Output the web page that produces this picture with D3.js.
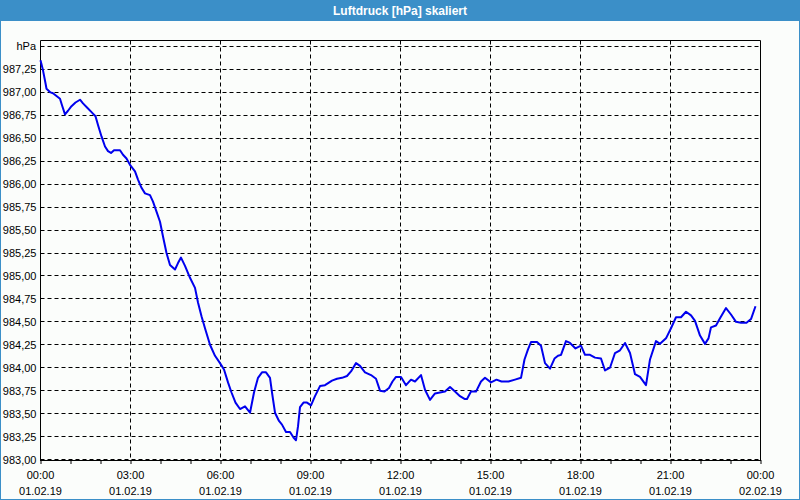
<!DOCTYPE html>
<html>
<head>
<meta charset="utf-8">
<script src="https://cdn.jsdelivr.net/npm/d3@7"></script>
<style>
  html, body { margin: 0; padding: 0; background: #fbfdfb; }
  svg { display: block; }
  text { font-family: "Liberation Sans", Arial, sans-serif; }
</style>
</head>
<body>
<svg id="chart" width="800" height="500"></svg>
<script>
// ---- data ----
const chartTitle = "Luftdruck [hPa] skaliert";
const unitLabel = "hPa";
const dayStart = "01.02.19";
const times = [
  "00:00","00:05","00:10","00:12","00:20","00:25","00:32","00:39","00:43","00:49","00:55",
  "01:02","01:10","01:19","01:25","01:34","01:43","01:50","01:55",
  "02:02","02:09","02:15","02:21","02:27","02:39","02:45","02:52","02:59",
  "03:09","03:15","03:22","03:29","03:39","03:45","03:52","03:59",
  "04:05","04:12","04:19","04:29","04:35","04:41","04:49","04:59",
  "05:09","05:15","05:22","05:29","05:39","05:49","05:59",
  "06:07","06:15","06:22","06:30","06:39","06:49","06:59",
  "07:07","07:15","07:23","07:31","07:39","07:43","07:49","07:57",
  "08:03","08:11","08:19","08:26","08:31","08:35","08:39","08:46","08:53",
  "09:01","09:09","09:19","09:29","09:43","09:53",
  "10:03","10:13","10:21","10:31","10:39","10:49",
  "11:01","11:11","11:19","11:28","11:37","11:44","11:51",
  "12:01","12:11","12:21","12:29","12:41","12:49","12:59",
  "13:09","13:19","13:29","13:39","13:49","13:59",
  "14:08","14:13","14:21","14:31","14:41","14:49",
  "15:01","15:12","15:22","15:36","15:49",
  "16:01","16:08","16:15","16:21","16:33","16:41","16:49","16:59",
  "17:08","17:15","17:21","17:31","17:39","17:50",
  "18:01","18:09","18:19","18:29","18:41","18:49","18:59",
  "19:09","19:19","19:29","19:39","19:49","19:59",
  "20:11","20:19","20:31","20:39","20:51",
  "21:01","21:11","21:21","21:31","21:41","21:49","21:59",
  "22:09","22:16","22:21","22:31","22:39","22:51",
  "23:01","23:11","23:21","23:32","23:41","23:50"
];
const pressure = [
  987.35,987.24,987.10,987.04,987.00,986.99,986.96,986.93,986.86,986.76,986.80,
  986.85,986.89,986.92,986.88,986.83,986.78,986.74,986.645,
  986.52,986.41,986.36,986.34,986.37,986.37,986.32,986.28,986.21,
  986.14,986.05,985.96,985.90,985.88,985.81,985.70,985.59,
  985.43,985.25,985.12,985.07,985.14,985.20,985.11,984.98,
  984.87,984.71,984.56,984.43,984.25,984.13,984.05,
  983.98,983.84,983.73,983.62,983.55,983.58,983.51,
  983.73,983.89,983.95,983.95,983.89,983.73,983.51,983.42,
  983.38,983.30,983.30,983.24,983.21,983.36,983.57,983.62,983.62,
  983.59,983.69,983.80,983.81,983.86,983.88,
  983.89,983.91,983.96,984.05,984.02,983.95,
  983.92,983.88,983.75,983.74,983.78,983.85,983.90,
  983.90,983.81,983.87,983.85,983.92,983.76,983.65,
  983.72,983.73,983.74,983.79,983.74,983.69,
  983.66,983.66,983.74,983.74,983.85,983.89,
  983.84,983.87,983.85,983.85,983.87,
  983.89,984.09,984.20,984.28,984.28,984.24,984.05,983.99,
  984.10,984.13,984.14,984.29,984.27,984.21,
  984.24,984.14,984.14,984.11,984.10,983.97,984.00,
  984.16,984.19,984.27,984.16,983.93,983.90,
  983.81,984.09,984.29,984.26,984.32,
  984.43,984.55,984.55,984.61,984.57,984.51,984.35,
  984.26,984.32,984.44,984.46,984.54,984.65,
  984.58,984.50,984.49,984.49,984.53,984.67
];
const yTicks = [983.00,983.25,983.50,983.75,984.00,984.25,984.50,984.75,985.00,
  985.25,985.50,985.75,986.00,986.25,986.50,986.75,987.00,987.25];
const yUnitPos = 987.50;
const xTickLabels = [
  ["00:00","01.02.19"],["03:00","01.02.19"],["06:00","01.02.19"],["09:00","01.02.19"],
  ["12:00","01.02.19"],["15:00","01.02.19"],["18:00","01.02.19"],["21:00","01.02.19"],
  ["00:00","02.02.19"]
];

// ---- setup ----
(function () {
const parse = d3.timeParse("%d.%m.%y %H:%M");
const series = times.map((t, i) => ({ t: parse(dayStart + " " + t), v: pressure[i] }));
const tStart = parse("01.02.19 00:00");
const tEnd = parse("02.02.19 00:00");

const svg = d3.select("#chart");
const W = 800, H = 500;
const blue = "#3b8fc8";

svg.append("rect").attr("x", 0).attr("y", 0).attr("width", W).attr("height", H).attr("fill", "#fbfdfb");
svg.append("rect").attr("x", 0.5).attr("y", 0.5).attr("width", W - 1).attr("height", H - 1)
  .attr("fill", "none").attr("stroke", blue).attr("stroke-width", 1);
svg.append("rect").attr("x", 0).attr("y", 0).attr("width", W).attr("height", 21).attr("fill", blue);
svg.append("text").attr("x", 400).attr("y", 15).attr("text-anchor", "middle")
  .attr("fill", "#ffffff").attr("font-weight", "bold").attr("font-size", 12).text(chartTitle);

const pL = 40.5, pR = 760.5, pT = 40.5, pB = 460.5;
const x = d3.scaleTime().domain([tStart, tEnd]).range([pL, pR]);
const y = d3.scaleLinear().domain([983, yUnitPos]).range([459.5, 46.5]);

const dash = "4,3";
const grid = svg.append("g").attr("stroke", "#000").attr("stroke-width", 1).attr("stroke-dasharray", dash);
grid.selectAll("line.h").data(yTicks.concat([yUnitPos])).join("line").attr("class", "h")
  .attr("x1", pL).attr("x2", pR)
  .attr("y1", d => Math.round(y(d) - 0.5) + 0.5).attr("y2", d => Math.round(y(d) - 0.5) + 0.5);
const vHours = d3.timeHour.every(3).range(tStart, tEnd).slice(1);
grid.selectAll("line.v").data(vHours).join("line").attr("class", "v")
  .attr("x1", d => x(d)).attr("x2", d => x(d)).attr("y1", pT).attr("y2", pB);

svg.append("path").attr("d", `M${pL},${pT}H${pR}V${pB}`)
  .attr("fill", "none").attr("stroke", "#000").attr("stroke-width", 1);

const xAxis = d3.axisBottom(x).ticks(d3.timeHour.every(1)).tickSize(4).tickSizeOuter(0).tickFormat("");
const gx = svg.append("g").attr("transform", `translate(0,${pB - 0.5})`).call(xAxis);
gx.select(".domain").attr("stroke", "#000");
gx.selectAll(".tick line").attr("stroke", "#000");

const labelTimes = d3.timeHour.every(3).range(tStart, d3.timeMinute.offset(tEnd, 1));
const xl = svg.append("g").attr("font-size", 11).attr("fill", "#000").attr("text-anchor", "middle");
labelTimes.forEach((d, i) => {
  const t = xl.append("text").attr("x", x(d)).attr("y", 479);
  t.append("tspan").attr("x", x(d)).attr("y", 479).text(xTickLabels[i][0]);
  t.append("tspan").attr("x", x(d)).attr("y", 495).text(xTickLabels[i][1]);
});

const yAxis = d3.axisLeft(y).tickValues(yTicks).tickSize(0).tickPadding(4)
  .tickFormat(d => d.toFixed(2).replace(".", ","));
const gy = svg.append("g").attr("transform", `translate(${pL},0)`).call(yAxis);
gy.select(".domain").remove();
gy.selectAll("text").attr("font-family", "'Liberation Sans', Arial, sans-serif")
  .attr("font-size", 11).attr("fill", "#000");
svg.append("line").attr("x1", pL).attr("x2", pL).attr("y1", pT).attr("y2", pB + 0.5)
  .attr("stroke", "#000");
svg.append("text").attr("x", pL - 4.5).attr("y", y(yUnitPos)).attr("dy", "0.32em")
  .attr("text-anchor", "end").attr("font-size", 11).attr("fill", "#000").text(unitLabel);

const line = d3.line().x(d => x(d.t)).y(d => y(d.v));
svg.append("path").datum(series).attr("d", line)
  .attr("fill", "none").attr("stroke", "#0000ee").attr("stroke-width", 2).attr("stroke-linejoin", "round");
})();
</script>
</body>
</html>
